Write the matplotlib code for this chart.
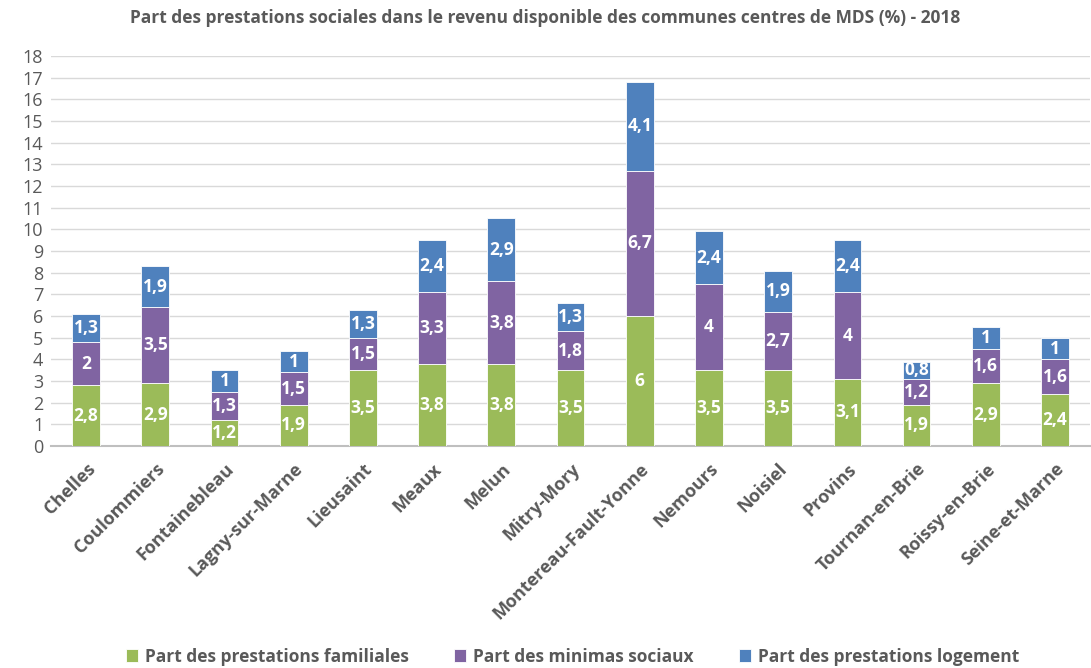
import matplotlib.pyplot as plt
import numpy as np

communes = ["Chelles", "Coulommiers", "Fontainebleau", "Lagny-sur-Marne", "Lieusaint",
            "Meaux", "Melun", "Mitry-Mory", "Montereau-Fault-Yonne", "Nemours",
            "Noisiel", "Provins", "Tournan-en-Brie", "Roissy-en-Brie", "Seine-et-Marne"]
familiales = [2.8, 2.9, 1.2, 1.9, 3.5, 3.8, 3.8, 3.5, 6, 3.5, 3.5, 3.1, 1.9, 2.9, 2.4]
minimas = [2, 3.5, 1.3, 1.5, 1.5, 3.3, 3.8, 1.8, 6.7, 4, 2.7, 4, 1.2, 1.6, 1.6]
logement = [1.3, 1.9, 1, 1, 1.3, 2.4, 2.9, 1.3, 4.1, 2.4, 1.9, 2.4, 0.8, 1, 1]

series = ["Part des prestations familiales", "Part des minimas sociaux",
          "Part des prestations logement"]
couleurs = ["#9BBB59", "#8064A2", "#4F81BD"]

plt.rcParams['font.family'] = ['Open Sans', 'DejaVu Sans']
gris = "#595959"

fig = plt.figure(figsize=(10.91, 6.68), dpi=100)
ax = fig.add_axes([0.0472, 0.3323, 0.9515, 0.5839])

x = np.arange(len(communes))
bas = np.zeros(len(communes))
for vals, nom, c in zip([familiales, minimas, logement], series, couleurs):
    vals = np.array(vals, dtype=float)
    ax.bar(x, vals, 0.4, bottom=bas, color=c, label=nom,
           edgecolor="white", linewidth=0.6, zorder=3)
    for xi, b, v in zip(x, bas, vals):
        txt = ("%g" % v).replace(".", ",")
        ax.text(xi, b + v / 2, txt, ha="center", va="center", color="white",
                fontsize=12.5, fontweight="bold", zorder=4)
    bas += vals

ax.set_xlim(-0.5, len(communes) - 0.5)
ax.set_ylim(0, 18)
ax.set_yticks(range(0, 19))
ax.yaxis.grid(True, color="#D9D9D9", linewidth=1, zorder=0)
ax.tick_params(axis="y", length=0, labelsize=13, labelcolor=gris, pad=6)
ax.tick_params(axis="x", length=0, pad=10)
ax.set_xticks(x)
ax.set_xticklabels(communes, rotation=45, ha="right", rotation_mode="anchor",
                   fontsize=13, fontweight="bold", color=gris)
for s in ["top", "right", "left"]:
    ax.spines[s].set_visible(False)
ax.spines["bottom"].set_color("#BFBFBF")
ax.spines["bottom"].set_linewidth(1.5)

fig.text(0.5, 0.973, "Part des prestations sociales dans le revenu disponible des communes centres de MDS (%) - 2018",
         ha="center", va="center", fontsize=12.5, fontweight="bold", color=gris)

fig.legend(loc="center", bbox_to_anchor=(0.525, 0.017), ncol=3, frameon=False,
           prop={"size": 12.5, "weight": "bold"}, labelcolor=gris,
           handlelength=0.7, handleheight=0.7, handletextpad=0.4, columnspacing=2.6)

fig.savefig("out.png", dpi=100)
